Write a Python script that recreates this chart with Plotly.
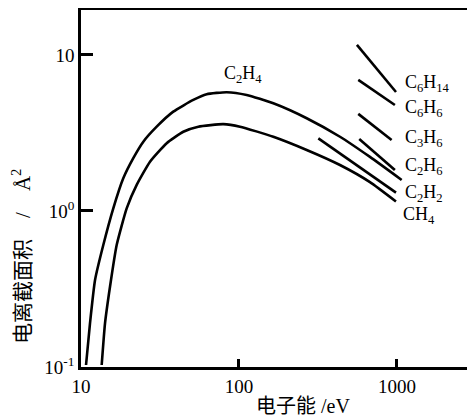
import math
import plotly.graph_objects as go

# ---- data (electron energy in eV, ionization cross-section in Å^2) ----
c2h4_energy = [10.76, 11.40, 12.27, 13.84, 16.01, 18.52, 21.43, 24.80, 30.14, 38.39, 51.38,
               62.45, 83.60, 111.9, 164.9, 268.3, 435.8, 674.7, 1071]
c2h4_sigma = [0.103, 0.1905, 0.361, 0.605, 1.04, 1.62, 2.18, 2.78, 3.47, 4.33, 5.15,
              5.60, 5.77, 5.54, 4.90, 3.93, 2.99, 2.22, 1.58]

ch4_energy = [13.52, 14.19, 15.26, 16.82, 19.46, 22.52, 27.34, 34.87, 44.41, 55.26, 79.56,
              101.5, 164.9, 268.3, 435.8, 674.7, 985.6]
ch4_sigma = [0.103, 0.1905, 0.327, 0.605, 1.04, 1.47, 2.07, 2.72, 3.22, 3.47, 3.60,
             3.47, 2.99, 2.46, 1.97, 1.53, 1.15]

c6h14_energy = [558, 986]
c6h14_sigma = [11.6, 5.79]
c6h6_energy = [569, 970]
c6h6_sigma = [6.92, 4.78]
c3h6_energy = [569, 925]
c3h6_sigma = [4.19, 2.85]
c2h6_energy = [577, 970]
c2h6_sigma = [2.89, 1.83]
c2h2_energy = [318, 986]
c2h2_sigma = [2.92, 1.31]

series_names = ["C2H4", "CH4", "C6H14", "C6H6", "C3H6", "C2H6", "C2H2"]
series_x = [c2h4_energy, ch4_energy, c6h14_energy, c6h6_energy, c3h6_energy, c2h6_energy, c2h2_energy]
series_y = [c2h4_sigma, ch4_sigma, c6h14_sigma, c6h6_sigma, c3h6_sigma, c2h6_sigma, c2h2_sigma]

label_texts = ["C<sub>2</sub>H<sub>4</sub>", "C<sub>6</sub>H<sub>14</sub>", "C<sub>6</sub>H<sub>6</sub>",
               "C<sub>3</sub>H<sub>6</sub>", "C<sub>2</sub>H<sub>6</sub>", "C<sub>2</sub>H<sub>2</sub>",
               "CH<sub>4</sub>"]
label_energy = [106, 1090, 1090, 1090, 1090, 1090, 1055]
label_sigma = [7.45, 6.52, 4.57, 2.90, 1.94, 1.30, 0.94]
label_anchor = ["center", "left", "left", "left", "left", "left", "left"]

x_tickvals = [10, 100, 1000]
x_ticktext = ["10", "100", "1000"]
y_tickvals = [0.1, 1, 10]
y_ticktext = ["10<sup>-1</sup>", "10<sup>0</sup>", "10"]

FONT = "Liberation Serif, Times New Roman, Noto Sans CJK SC, serif"

fig = go.Figure()
for name, xs, ys in zip(series_names, series_x, series_y):
    fig.add_trace(go.Scatter(x=xs, y=ys, mode="lines", name=name,
                             line=dict(color="black", width=2.6, shape="spline", smoothing=0.5),
                             showlegend=False, hoverinfo="skip"))

for t, ex, sy, anc in zip(label_texts, label_energy, label_sigma, label_anchor):
    fig.add_annotation(x=math.log10(ex), y=math.log10(sy), xref="x", yref="y", text=t,
                       showarrow=False, xanchor=anc, yanchor="middle",
                       font=dict(family=FONT, size=18, color="black"))

# axis titles
fig.add_annotation(x=0.568, y=-0.109, xref="paper", yref="paper", text="电子能 /eV",
                   showarrow=False, xanchor="center", yanchor="middle",
                   font=dict(family=FONT, size=20, color="black"))
fig.add_annotation(x=-0.152, y=0.31, xref="paper", yref="paper",
                   text="电离截面积\u2003/\u2003Å<sup>2</sup>",
                   showarrow=False, xanchor="center", yanchor="middle", textangle=-90,
                   font=dict(family=FONT, size=21, color="black"))

# thin gray right frame edge
fig.add_shape(type="line", xref="paper", yref="paper", x0=1, x1=1, y0=0, y1=1,
              line=dict(color="#777777", width=1.2))

fig.update_xaxes(type="log", range=[1, 3.475], tickvals=x_tickvals, ticktext=x_ticktext,
                 ticks="inside", ticklen=8, tickwidth=2.5, tickcolor="black",
                 showline=True, linewidth=2.5, linecolor="black", mirror=True,
                 showgrid=False, zeroline=False, automargin=False,
                 tickfont=dict(family=FONT, size=19, color="black"))
fig.update_yaxes(type="log", range=[-1, 1.288], tickvals=y_tickvals, ticktext=y_ticktext,
                 ticks="inside", ticklen=12, tickwidth=2.5, tickcolor="black",
                 showline=True, linewidth=2.5, linecolor="black", mirror=False,
                 showgrid=False, zeroline=False, automargin=False,
                 tickfont=dict(family=FONT, size=19, color="black"))

# the page body adds an 8px offset, so the figure is 8px smaller in each direction
fig.update_layout(width=467, height=408, margin=dict(l=73, r=3, t=2, b=49, autoexpand=False),
                  plot_bgcolor="white", paper_bgcolor="white")

fig.write_html("out.html")
